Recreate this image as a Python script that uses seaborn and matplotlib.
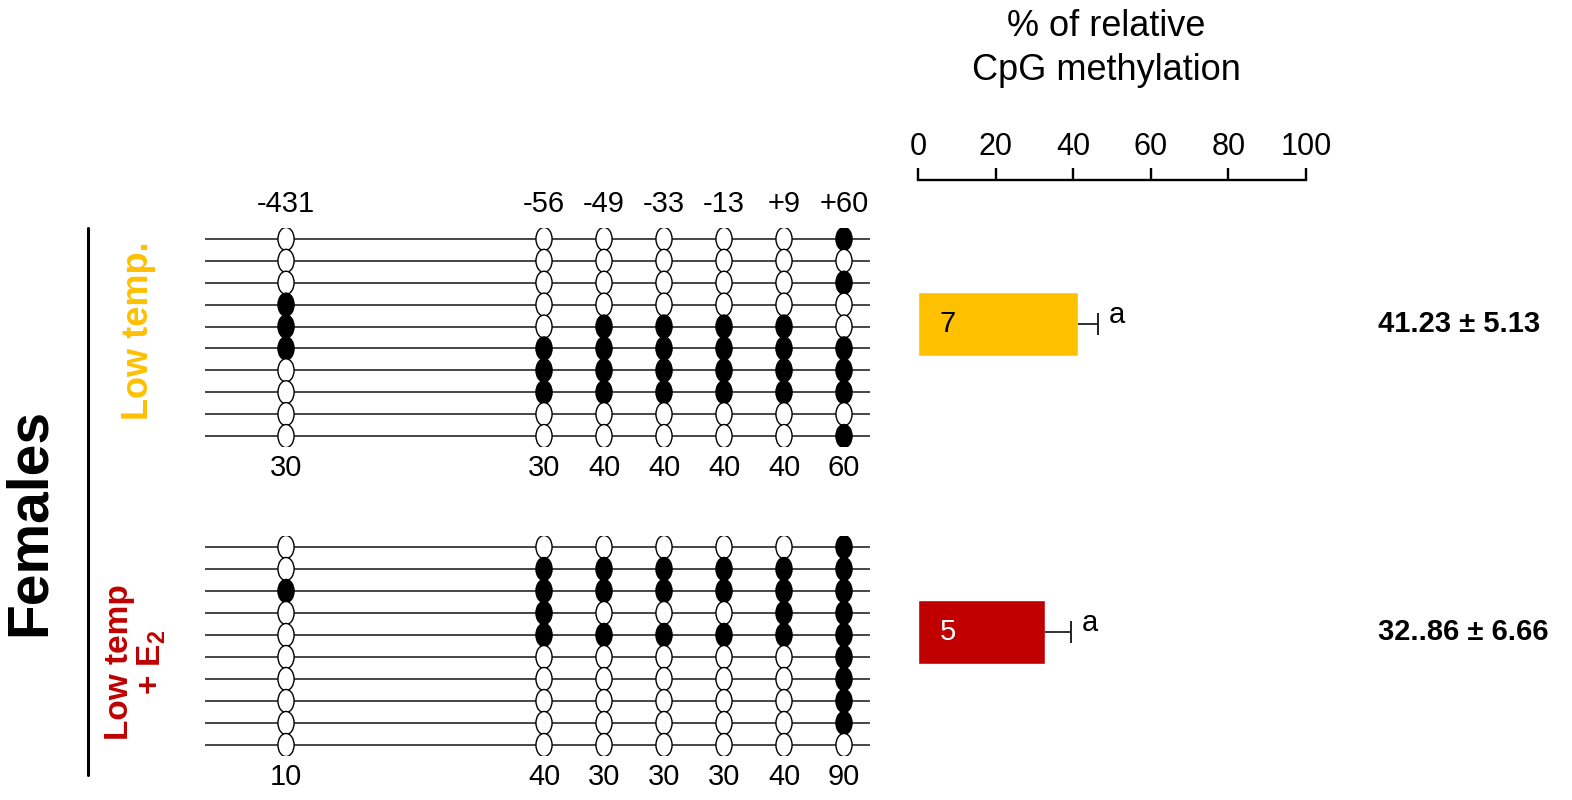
import matplotlib

matplotlib.use("Agg")
import matplotlib.pyplot as plt
import numpy as np
import pandas as pd
import seaborn as sns
from matplotlib.lines import Line2D
from matplotlib.path import Path

# ---------------------------------------------------------------------------
# Data
# ---------------------------------------------------------------------------
SITES = ["-431", "-56", "-49", "-33", "-13", "+9", "+60"]

# 1 = methylated (filled), 0 = unmethylated (open); one row per clone
LOW_TEMP_METH = [
    [0, 0, 0, 0, 0, 0, 1],
    [0, 0, 0, 0, 0, 0, 0],
    [0, 0, 0, 0, 0, 0, 1],
    [1, 0, 0, 0, 0, 0, 0],
    [1, 0, 1, 1, 1, 1, 0],
    [1, 1, 1, 1, 1, 1, 1],
    [0, 1, 1, 1, 1, 1, 1],
    [0, 1, 1, 1, 1, 1, 1],
    [0, 0, 0, 0, 0, 0, 0],
    [0, 0, 0, 0, 0, 0, 1],
]
LOW_TEMP_E2_METH = [
    [0, 0, 0, 0, 0, 0, 1],
    [0, 1, 1, 1, 1, 1, 1],
    [1, 1, 1, 1, 1, 1, 1],
    [0, 1, 0, 0, 0, 1, 1],
    [0, 1, 1, 1, 1, 1, 1],
    [0, 0, 0, 0, 0, 0, 1],
    [0, 0, 0, 0, 0, 0, 1],
    [0, 0, 0, 0, 0, 0, 1],
    [0, 0, 0, 0, 0, 0, 1],
    [0, 0, 0, 0, 0, 0, 0],
]
LOW_TEMP_PCT = [30, 30, 40, 40, 40, 40, 60]
LOW_TEMP_E2_PCT = [10, 40, 30, 30, 30, 40, 90]

GROUPS = ["Low temp.", "Low temp + E2"]
MEAN_METH = [41.23, 32.86]
SEM_METH = [5.13, 6.66]
N_LABELS = ["7", "5"]
SIG_LETTERS = ["a", "a"]
VALUE_LABELS = ["41.23 \u00b1 5.13", "32..86 \u00b1 6.66"]

# ---------------------------------------------------------------------------
# Style / layout
# ---------------------------------------------------------------------------
ORANGE = "#FFC000"
RED = "#C00000"
W, H = 1572, 800
SITE_SLOT = [0, 4.3, 5.3, 6.3, 7.3, 8.3, 9.3]  # schematic x slots
NUM_FS = 21

sns.set_style("white")
plt.rcParams["font.family"] = ["Liberation Sans", "DejaVu Sans"]
plt.rcParams["text.color"] = "black"
plt.rcParams["mathtext.fontset"] = "custom"
plt.rcParams["mathtext.rm"] = "Liberation Sans"
plt.rcParams["mathtext.bf"] = "Liberation Sans:bold"


def px_rect(x0, y0, x1, y1):
    """Axes rect from pixel box (origin top-left)."""
    return [x0 / W, 1 - y1 / H, (x1 - x0) / W, (y1 - y0) / H]


circle = Path.unit_circle()
ellipse = Path(circle.vertices * np.array([0.7, 1.0]), circle.codes)


def lollipop(ax, meth, pcts, show_sites):
    rows = []
    for r, clone in enumerate(meth):
        for c, m in enumerate(clone):
            rows.append({"slot": SITE_SLOT[c], "row": r, "methylated": m})
    df = pd.DataFrame(rows)

    ax.hlines(range(len(meth)), -1.35, 9.73, color="#262626", lw=1.2, zorder=1)
    sns.scatterplot(
        data=df, x="slot", y="row", hue="methylated",
        palette={0: "white", 1: "black"}, marker=ellipse, s=275,
        edgecolor="black", linewidth=1.0, legend=False, ax=ax, zorder=3,
    )
    ax.set_xlim(-1.517, 9.9)
    ax.set_ylim(len(meth) - 0.5, -0.5)
    ax.axis("off")

    if show_sites:
        for slot, lab in zip(SITE_SLOT, SITES):
            ax.text(slot, -1.6, lab, ha="center", va="center", fontsize=NUM_FS,
                    clip_on=False)
    for slot, p in zip(SITE_SLOT, pcts):
        ax.text(slot, 10.45, str(p), ha="center", va="center", fontsize=NUM_FS,
                clip_on=False)


fig = plt.figure(figsize=(W / 100, H / 100), dpi=100)

ax_top = fig.add_axes(px_rect(195, 228, 880, 447))
lollipop(ax_top, LOW_TEMP_METH, LOW_TEMP_PCT, True)
ax_bot = fig.add_axes(px_rect(195, 536, 880, 756))
lollipop(ax_bot, LOW_TEMP_E2_METH, LOW_TEMP_E2_PCT, False)

# bar panel
ax_bar = fig.add_axes(px_rect(918, 180, 1306, 780))
sns.barplot(
    x=MEAN_METH, y=GROUPS, hue=GROUPS, palette=[ORANGE, RED], orient="h",
    width=0.21, errorbar=None, saturation=1, legend=False, ax=ax_bar,
)
eb = ax_bar.errorbar(
    MEAN_METH, [0, 1], xerr=[[0, 0], SEM_METH], fmt="none", ecolor="#222222",
    elinewidth=1.3, capsize=8, capthick=1.4, zorder=3,
)
for cap in eb[1]:
    if np.allclose(cap.get_xdata(), MEAN_METH):
        cap.set_visible(False)

for i in range(len(GROUPS)):
    ax_bar.text(7.6, i, N_LABELS[i], ha="center", va="center", fontsize=NUM_FS,
                color="black" if i == 0 else "white")
    ax_bar.text(MEAN_METH[i] + SEM_METH[i] + 2.8, i - 0.03, SIG_LETTERS[i],
                ha="left", va="center", fontsize=NUM_FS)
    ax_bar.text(118.6, i, VALUE_LABELS[i], ha="left", va="center",
                fontsize=21, fontweight="bold", clip_on=False)

ax_bar.set_xlim(0, 100)
ax_bar.set_ylim(1.48, -0.4675)
ax_bar.xaxis.tick_top()
ax_bar.set_xticks([0, 20, 40, 60, 80, 100])
ax_bar.tick_params(axis="x", direction="out", length=9, width=1.7,
                   labelsize=22, pad=4, colors="black")
ax_bar.set_yticks([])
ax_bar.set_xlabel("")
ax_bar.set_ylabel("")
for side in ["left", "right", "bottom"]:
    ax_bar.spines[side].set_visible(False)
ax_bar.spines["top"].set_linewidth(1.7)
ax_bar.spines["top"].set_color("black")
ax_bar.patch.set_alpha(0)

fig.text(1106 / W, 1 - 26 / H, "% of relative", ha="center", va="center",
         fontsize=26)
fig.text(1106 / W, 1 - 70 / H, "CpG methylation", ha="center", va="center",
         fontsize=26)

# group labels on the left
fig.text(30 / W, 1 - 522 / H, "Females", rotation=90, fontsize=41,
         fontweight="bold", ha="center", va="center")
fig.add_artist(Line2D([88 / W, 88 / W], [1 - 228 / H, 1 - 775 / H],
                      color="black", lw=2.2))
fig.text(138 / W, 1 - 331 / H, "Low temp.", rotation=90, fontsize=26,
         fontweight="bold", color=ORANGE, ha="center", va="center")
fig.text(136 / W, 1 - 662 / H, "Low temp\n+ E$_\\mathbf{2}$", rotation=90,
         fontsize=24, fontweight="bold", color=RED, ha="center", va="center",
         multialignment="center", linespacing=1.05)

fig.savefig("out.png", dpi=100)
